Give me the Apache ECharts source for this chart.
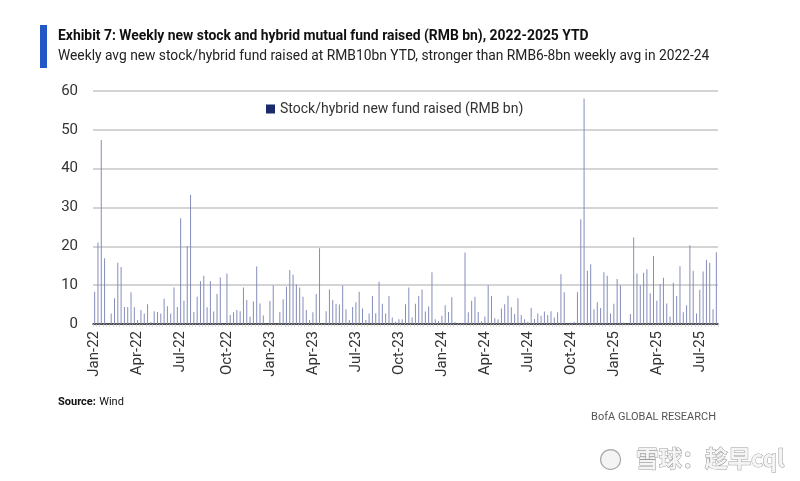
<!DOCTYPE html>
<html>
<head>
<meta charset="utf-8">
<script src="https://cdn.jsdelivr.net/npm/echarts@6/dist/echarts.min.js"></script>
<style>
html,body{margin:0;padding:0;background:#fff;}
#chart{width:800px;height:481px;}
</style>
</head>
<body>
<div id="chart"></div>
<script>
// Weekly new stock/hybrid fund raised (RMB bn), weeks ending Fridays from 2022-01-07
const firstWeek = '2022-01-07';
const fundRaised = [
  8.3, 21.0, 47.4, 16.9, 0, 2.7, 6.6, 15.8, 14.7, 4.4,
  4.4, 8.2, 4.3, 1.0, 3.6, 2.7, 5.1, 0.5, 3.3, 3.1,
  2.7, 6.5, 4.6, 2.7, 9.4, 4.4, 27.2, 6.0, 20.1, 33.2,
  3.1, 7.0, 11.0, 12.4, 4.3, 11.0, 3.2, 7.7, 12.0, 0,
  13.0, 2.3, 3.0, 3.6, 3.3, 9.4, 6.2, 1.9, 5.8, 14.8,
  5.3, 2.2, 0, 5.9, 10.0, 0, 3.1, 6.4, 9.6, 13.9,
  12.7, 10.2, 9.4, 7.0, 3.6, 1.0, 3.0, 7.7, 19.5, 0,
  3.3, 8.9, 6.2, 5.2, 5.0, 9.9, 3.8, 1.0, 4.4, 5.6,
  8.3, 4.0, 1.0, 2.7, 7.2, 2.8, 10.9, 5.2, 2.7, 7.2,
  1.7, 0.6, 1.2, 1.2, 5.1, 9.4, 1.7, 5.2, 7.2, 8.9,
  3.2, 4.5, 13.3, 1.2, 0.8, 2.1, 4.8, 3.1, 6.9, 0.5,
  0.2, 0.2, 18.4, 3.0, 6.0, 7.0, 3.1, 0.7, 1.9, 10.0,
  7.2, 1.5, 1.2, 4.0, 5.1, 7.3, 4.3, 2.6, 6.6, 2.3,
  1.2, 0.6, 4.1, 1.3, 2.7, 2.1, 3.2, 2.3, 3.3, 1.7,
  3.0, 12.8, 8.2, 0, 0.4, 0.6, 8.2, 27.0, 58.1, 13.7,
  15.4, 3.8, 5.6, 4.1, 13.3, 12.4, 2.7, 5.2, 11.6, 10.0,
  0.4, 0, 2.6, 22.3, 13.0, 10.0, 13.2, 14.1, 7.9, 17.5,
  6.0, 10.3, 11.9, 5.3, 1.9, 10.6, 7.2, 14.9, 3.0, 4.8,
  20.3, 13.7, 2.7, 8.8, 13.5, 16.5, 15.8, 3.8, 18.5
];
// Week-ending dates where the quarterly tick labels sit
const tickDates = ['2022-01-07','2022-04-08','2022-07-08','2022-10-14','2023-01-13','2023-04-14','2023-07-14',
  '2023-10-13','2024-01-12','2024-04-12','2024-07-12','2024-10-11','2025-01-10','2025-04-11','2025-07-11'];
const tickLabels = ['Jan-22','Apr-22','Jul-22','Oct-22','Jan-23','Apr-23','Jul-23','Oct-23',
  'Jan-24','Apr-24','Jul-24','Oct-24','Jan-25','Apr-25','Jul-25'];
const seriesName = 'Stock/hybrid new fund raised (RMB bn)';
const yTicks = [0, 10, 20, 30, 40, 50, 60];

function fmt(d){
  const m = String(d.getUTCMonth()+1).padStart(2,'0');
  const dd = String(d.getUTCDate()).padStart(2,'0');
  return d.getUTCFullYear()+'-'+m+'-'+dd;
}
const start = new Date(firstWeek + 'T00:00:00Z');
const categories = fundRaised.map((v,i)=>fmt(new Date(start.getTime() + i*7*86400000)));
const labelMap = {};
tickDates.forEach((d,i)=>{ labelMap[d] = tickLabels[i]; });

const chart = echarts.init(document.getElementById('chart'), null, {renderer:'canvas'});
const FONT = 'Roboto, "Noto Sans", sans-serif';
chart.setOption({
  animation: false,
  backgroundColor: '#fff',
  grid: {left: 93, right: 82, top: 91, bottom: 157, containLabel: false},
  legend: {
    show: true,
    left: 261, top: 97,
    icon: 'rect', itemWidth: 9, itemHeight: 9, itemGap: 4,
    textStyle: {fontFamily: FONT, fontSize: 14, color: '#333'},
    data: [{name: seriesName, itemStyle: {color: '#1b2a6b'}}]
  },
  xAxis: {
    type: 'category',
    data: categories,
    boundaryGap: true,
    axisLine: {show: true, lineStyle: {color: '#222', width: 1.5}},
    axisTick: {show: true, interval: 0, length: 3, lineStyle: {color: '#c8c8c8', width: 0.6}},
    axisLabel: {
      interval: (idx, val) => labelMap[val] !== undefined,
      formatter: (val) => labelMap[val] || '',
      rotate: 90, margin: 7,
      fontFamily: FONT, fontSize: 15, color: '#333'
    },
    splitLine: {show: false}
  },
  yAxis: {
    type: 'value', min: yTicks[0], max: yTicks[yTicks.length-1], interval: 10,
    axisLine: {show: false}, axisTick: {show: false},
    axisLabel: {fontFamily: FONT, fontSize: 15, color: '#333', margin: 15},
    splitLine: {show: true, lineStyle: {color: '#c6c6c6', width: 1.5}}
  },
  series: [{
    name: seriesName,
    type: 'bar',
    data: fundRaised,
    barWidth: 1,
    itemStyle: {color: '#858dbb'},
    legendHoverLink: false
  }],
  graphic: [
    {type:'rect', left: 40, top: 25, shape:{width: 7, height: 43}, style:{fill:'#2257c6'}},
    {type:'text', left: 58, top: 30, style:{text:'Exhibit 7: Weekly new stock and hybrid mutual fund raised (RMB bn), 2022-2025 YTD',
      font:'bold 13.9px '+FONT, fill:'#111'}},
    {type:'text', left: 58, top: 50, style:{text:'Weekly avg new stock/hybrid fund raised at RMB10bn YTD, stronger than RMB6-8bn weekly avg in 2022-24',
      font:'13.8px '+FONT, fill:'#222'}},
    {type:'text', left: 58, top: 396, style:{rich:{b:{font:'bold 11px '+FONT, fill:'#111'}, n:{font:'11px '+FONT, fill:'#111'}},
      text:'{b|Source:} {n|Wind}'}},
    {type:'text', right: 84, top: 412, style:{text:'BofA GLOBAL RESEARCH', font:'11px '+FONT, fill:'#555'}},
    {type:'circle', left: 600, top: 449, shape:{r: 10}, style:{fill:'#f4f4f4', stroke:'#a8a8a8', lineWidth: 1.2}},
    {type:'text', right: 15, top: 446, style:{text:'雪球：趁早cql', font:'bold 23px "Noto Sans CJK SC", sans-serif',
      fill:'#f4f4f4', stroke:'#9a9a9a', lineWidth: 1}}
  ]
});
</script>
</body>
</html>
